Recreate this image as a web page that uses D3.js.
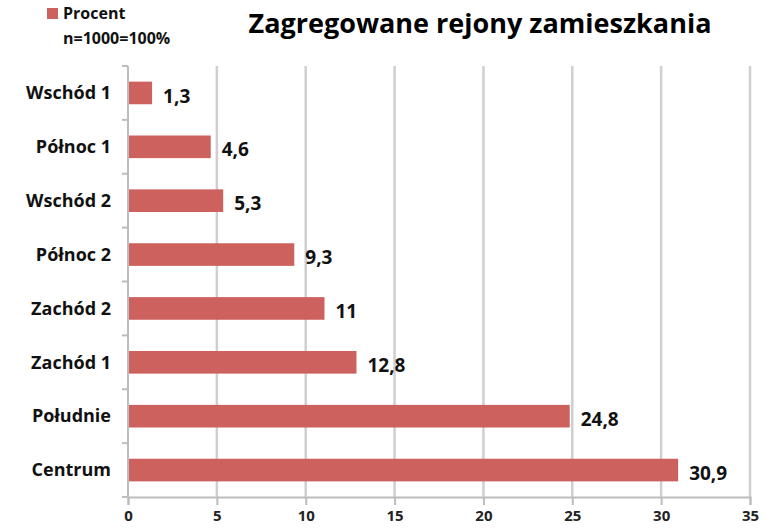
<!DOCTYPE html>
<html>
<head>
<meta charset="utf-8">
<script src="https://cdn.jsdelivr.net/npm/d3@7"></script>
<style>
  body { margin: 0; background: #fff; }
  text { font-family: "Open Sans", "DejaVu Sans", sans-serif; font-weight: bold; fill: #111; }
</style>
</head>
<body>
<svg id="chart" width="775" height="529"></svg>
<script>
// data
const categories = ["Wschód 1", "Północ 1", "Wschód 2", "Północ 2", "Zachód 2", "Zachód 1", "Południe", "Centrum"];
const values = [1.3, 4.6, 5.3, 9.3, 11, 12.8, 24.8, 30.9];
const xTicks = [0, 5, 10, 15, 20, 25, 30, 35];
const title = "Zagregowane rejony zamieszkania";
const legendLines = ["Procent", "n=1000=100%"];

const svg = d3.select("#chart");
const dims = {left: 128, right: 750, top: 66, bottom: 497};
const barColor = "#cd615e";

// scales
const x = d3.scaleLinear().domain([0, 35]).range([dims.left, dims.right]);
const y = d3.scaleBand().domain(categories).range([dims.top, dims.bottom]).paddingInner(0.58).paddingOuter(0.29);

// gridlines
svg.selectAll("line.grid")
    .data(xTicks.slice(1)).enter()
    .append("line")
        .attr("x1", d => x(d)).attr("x2", d => x(d))
        .attr("y1", dims.top).attr("y2", dims.bottom)
        .style("stroke", "#cfcfcf")
        .style("stroke-width", 2.5)

// x axis
const xAxis = svg.append("g")
    .attr("transform", "translate(0," + dims.bottom + ")")
    .call(d3.axisBottom(x).tickValues(xTicks).tickSize(8).tickPadding(5).tickFormat(d3.format("d")));
xAxis.select(".domain").style("stroke", "#bdbdbd").style("stroke-width", 2);
xAxis.selectAll(".tick line").style("stroke", "#bdbdbd").style("stroke-width", 2);
xAxis.selectAll(".tick text").style("font-size", "15px").style("font-family", "'Open Sans', sans-serif").style("font-weight", "bold").style("fill", "#222");

// y axis (line plus ticks between bands)
svg.append("line")
    .attr("x1", dims.left).attr("x2", dims.left)
    .attr("y1", dims.top).attr("y2", dims.bottom)
    .style("stroke", "#bdbdbd").style("stroke-width", 2)
svg.selectAll("line.ytick")
    .data(d3.range(categories.length + 1)).enter()
    .append("line")
        .attr("x1", dims.left - 6).attr("x2", dims.left)
        .attr("y1", d => dims.top + d * (dims.bottom - dims.top) / categories.length)
        .attr("y2", d => dims.top + d * (dims.bottom - dims.top) / categories.length)
        .style("stroke", "#bdbdbd").style("stroke-width", 2)

// bars
svg.selectAll("rect.bar")
    .data(values).enter()
    .append("rect")
        .attr("x", x(0) + 1)
        .attr("y", (d, i) => y(categories[i]))
        .attr("width", d => x(d) - x(0))
        .attr("height", y.bandwidth())
        .style("fill", barColor)

// category labels
svg.selectAll("text.cat")
    .data(categories).enter()
    .append("text")
        .attr("x", dims.left - 17)
        .attr("y", d => y(d) + y.bandwidth() / 2)
        .attr("dy", "0.35em")
        .style("text-anchor", "end")
        .style("font-size", "18px")
        .text(d => d)

// value labels
svg.selectAll("text.val")
    .data(values).enter()
    .append("text")
        .attr("x", d => x(d) + 12)
        .attr("y", (d, i) => y(categories[i]) + y.bandwidth() / 2 + 3)
        .attr("dy", "0.35em")
        .style("font-size", "19px")
        .text(d => String(d).replace(".", ","))

// title
svg.append("text")
    .attr("x", 480).attr("y", 33)
    .style("text-anchor", "middle")
    .style("font-size", "27px")
    .style("fill", "#000")
    .text(title)

// legend
svg.append("rect")
    .attr("x", 47).attr("y", 8).attr("width", 11).attr("height", 11)
    .style("fill", barColor)
svg.selectAll("text.leg")
    .data(legendLines).enter()
    .append("text")
        .attr("x", 63)
        .attr("y", (d, i) => 19 + i * 25)
        .style("font-size", "16px")
        .text(d => d)
</script>
</body>
</html>
